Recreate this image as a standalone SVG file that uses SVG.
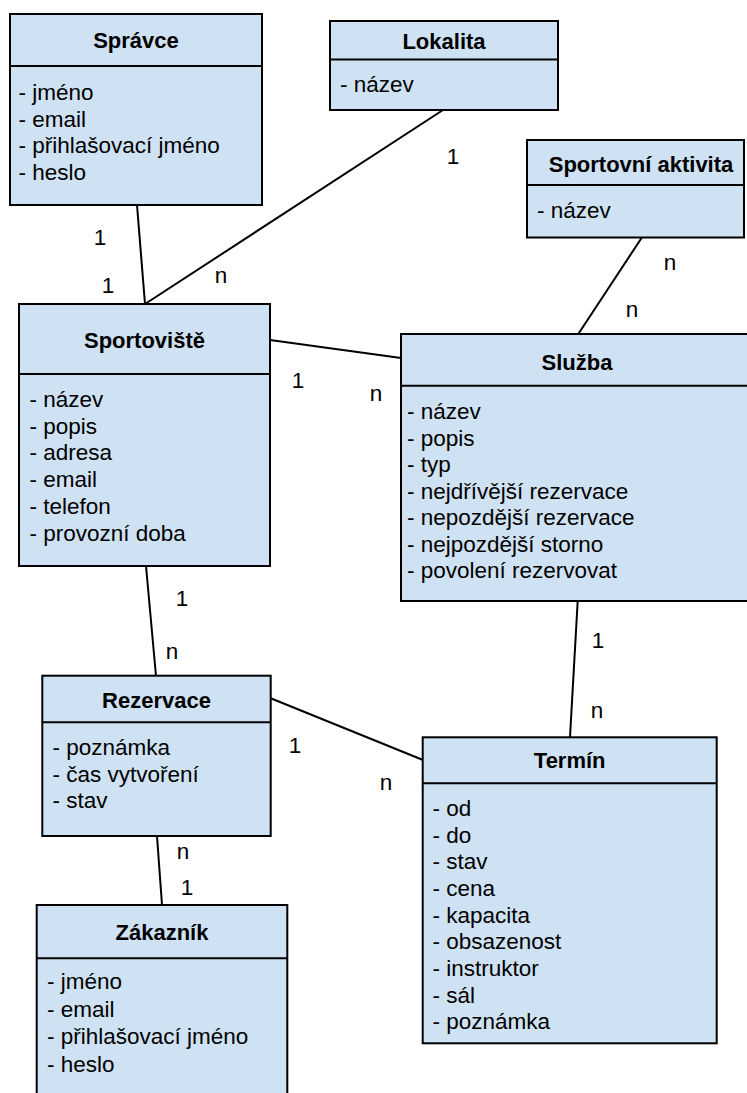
<svg xmlns="http://www.w3.org/2000/svg" width="747" height="1093" viewBox="0 0 747 1093">
<style>
.box{fill:#cfe2f3;stroke:#000;stroke-width:2}
.div{stroke:#000;stroke-width:2}
.t{font-family:"Liberation Sans",Arial,sans-serif;font-size:22px;font-weight:bold;text-anchor:middle;fill:#000}
.a{font-family:"Liberation Sans",Arial,sans-serif;font-size:22.5px;fill:#000}
.l{font-family:"Liberation Sans",Arial,sans-serif;font-size:22.5px;fill:#000;text-anchor:middle}
#connectors line{stroke:#000;stroke-width:2}
</style>
<rect width="747" height="1093" fill="#fff"/>
<g id="connectors">
<line x1="137" y1="205" x2="145" y2="304"/>
<line x1="443" y1="110" x2="145" y2="304"/>
<line x1="641.7" y1="237.7" x2="578.3" y2="334"/>
<line x1="270" y1="340" x2="401" y2="358"/>
<line x1="146" y1="566" x2="156" y2="676"/>
<line x1="270.7" y1="698.3" x2="423" y2="760"/>
<line x1="577.7" y1="601" x2="570" y2="737"/>
<line x1="157" y1="836" x2="162" y2="905"/>
<text class="l" x="100" y="245">1</text>
<text class="l" x="108" y="293">1</text>
<text class="l" x="221" y="283">n</text>
<text class="l" x="453" y="164">1</text>
<text class="l" x="670" y="270">n</text>
<text class="l" x="632" y="317">n</text>
<text class="l" x="298" y="388">1</text>
<text class="l" x="376" y="401">n</text>
<text class="l" x="182" y="606">1</text>
<text class="l" x="172" y="659">n</text>
<text class="l" x="598" y="648">1</text>
<text class="l" x="597" y="718">n</text>
<text class="l" x="295" y="753">1</text>
<text class="l" x="386" y="790">n</text>
<text class="l" x="183" y="859">n</text>
<text class="l" x="187" y="895">1</text>
</g>
<g id="spravce">
<rect class="box" x="10" y="14" width="252" height="191"/>
<line class="div" x1="10" y1="66" x2="262" y2="66"/>
<text class="t" x="136" y="48">Správce</text>
<text class="a" x="18.5" y="100">- jméno</text>
<text class="a" x="18.5" y="126.5">- email</text>
<text class="a" x="18.5" y="153">- přihlašovací jméno</text>
<text class="a" x="18.5" y="179.5">- heslo</text>
</g>
<g id="lokalita">
<rect class="box" x="330" y="21" width="228" height="89"/>
<line class="div" x1="330" y1="59.5" x2="558" y2="59.5"/>
<text class="t" x="444" y="49">Lokalita</text>
<text class="a" x="340" y="91.5">- název</text>
</g>
<g id="sportovni-aktivita">
<rect class="box" x="527" y="140" width="217" height="97.5"/>
<line class="div" x1="527" y1="185" x2="744" y2="185"/>
<text class="t" x="641" y="171.5">Sportovní aktivita</text>
<text class="a" x="537" y="218">- název</text>
</g>
<g id="sportoviste">
<rect class="box" x="19" y="304" width="251" height="262"/>
<line class="div" x1="19" y1="374" x2="270" y2="374"/>
<text class="t" x="144.5" y="348">Sportoviště</text>
<text class="a" x="29.5" y="407">- název</text>
<text class="a" x="29.5" y="433.7">- popis</text>
<text class="a" x="29.5" y="460.4">- adresa</text>
<text class="a" x="29.5" y="487.1">- email</text>
<text class="a" x="29.5" y="513.8">- telefon</text>
<text class="a" x="29.5" y="540.5">- provozní doba</text>
</g>
<g id="sluzba">
<rect class="box" x="401" y="334" width="352" height="267"/>
<line class="div" x1="401" y1="385.7" x2="753" y2="385.7"/>
<text class="t" x="577" y="370">Služba</text>
<text class="a" x="407" y="419">- název</text>
<text class="a" x="407" y="445.6">- popis</text>
<text class="a" x="407" y="472.1">- typ</text>
<text class="a" x="407" y="498.7">- nejdřívější rezervace</text>
<text class="a" x="407" y="525.2">- nepozdější rezervace</text>
<text class="a" x="407" y="551.8">- nejpozdější storno</text>
<text class="a" x="407" y="578.3">- povolení rezervovat</text>
</g>
<g id="rezervace">
<rect class="box" x="42.3" y="675.7" width="228.4" height="160.3"/>
<line class="div" x1="42.3" y1="722.3" x2="270.7" y2="722.3"/>
<text class="t" x="156.5" y="707.5">Rezervace</text>
<text class="a" x="52.5" y="755">- poznámka</text>
<text class="a" x="52.5" y="781.5">- čas vytvoření</text>
<text class="a" x="52.5" y="808">- stav</text>
</g>
<g id="termin">
<rect class="box" x="422.7" y="737.3" width="294" height="306"/>
<line class="div" x1="422.7" y1="783.3" x2="716.7" y2="783.3"/>
<text class="t" x="569.7" y="768.3">Termín</text>
<text class="a" x="432.5" y="816">- od</text>
<text class="a" x="432.5" y="842.7">- do</text>
<text class="a" x="432.5" y="869.3">- stav</text>
<text class="a" x="432.5" y="896">- cena</text>
<text class="a" x="432.5" y="922.7">- kapacita</text>
<text class="a" x="432.5" y="949.3">- obsazenost</text>
<text class="a" x="432.5" y="976">- instruktor</text>
<text class="a" x="432.5" y="1002.7">- sál</text>
<text class="a" x="432.5" y="1029.3">- poznámka</text>
</g>
<g id="zakaznik">
<rect class="box" x="36.7" y="905" width="250.6" height="200"/>
<line class="div" x1="36.7" y1="958.3" x2="287.3" y2="958.3"/>
<text class="t" x="162" y="940">Zákazník</text>
<text class="a" x="47" y="989">- jméno</text>
<text class="a" x="47" y="1016.5">- email</text>
<text class="a" x="47" y="1044">- přihlašovací jméno</text>
<text class="a" x="47" y="1071.5">- heslo</text>
</g>
</svg>
